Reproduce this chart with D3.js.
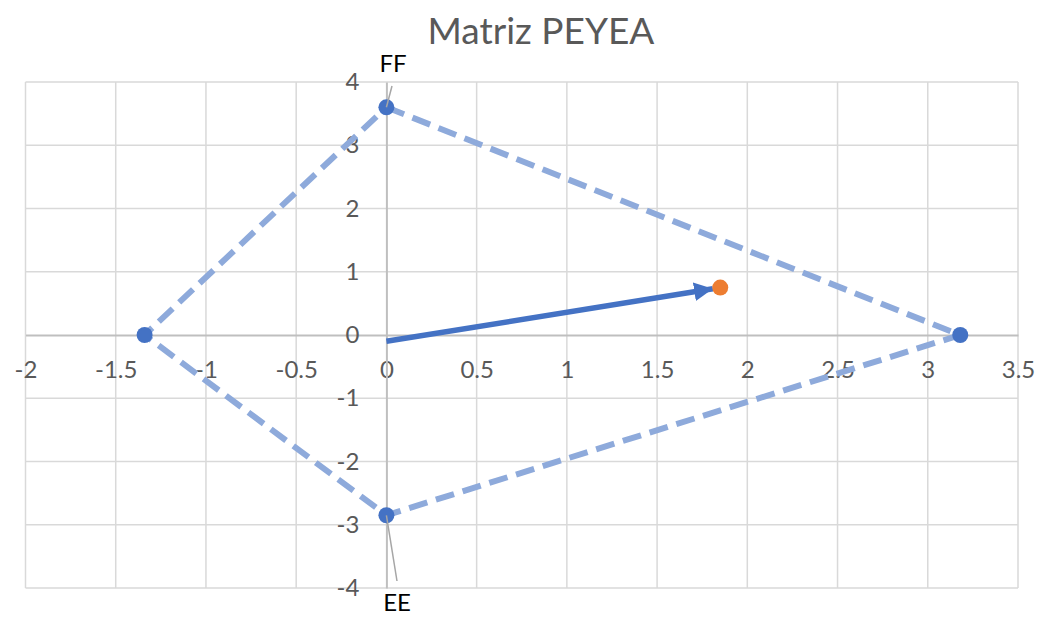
<!DOCTYPE html>
<html>
<head>
<meta charset="utf-8">
<script src="https://cdn.jsdelivr.net/npm/d3@7"></script>
<style>
  body { margin: 0; background: #fff; }
  svg { font-family: Lato, 'Open Sans', sans-serif; }
</style>
</head>
<body>
<svg id="chart" width="1046" height="617"></svg>
<script>
// matrix vertices (FF, competitive, EE, industry strength)
const vertexNames = ['FF', 'VC', 'EE', 'FI']
const vertexX = [0, 3.18, 0, -1.34]
const vertexY = [3.6, 0, -2.85, 0]
// resulting vector
const vectorStart = [0, -0.1]
const vectorEnd = [1.85, 0.75]
const xTicks = [-2, -1.5, -1, -0.5, 0, 0.5, 1, 1.5, 2, 2.5, 3, 3.5]
const yTicks = [-4, -3, -2, -1, 0, 1, 2, 3, 4]
const title = 'Matriz PEYEA'

const svg = d3.select('#chart')
const x = d3.scaleLinear().domain([-2, 3.5]).range([25.5, 1018])
const y = d3.scaleLinear().domain([-4, 4]).range([588, 82])

svg.append('text')
  .attr('x', 541).attr('y', 44)
  .attr('text-anchor', 'middle')
  .style('font-size', '37px')
  .style('fill', '#595959')
  .text(title)

// grid
svg.append('g').selectAll('line.v')
  .data(xTicks.filter(d => d !== 0))
  .enter().append('line')
  .attr('x1', d => x(d)).attr('x2', d => x(d))
  .attr('y1', y(4)).attr('y2', y(-4))
  .style('stroke', '#d9d9d9').style('stroke-width', 1.5)
svg.append('g').selectAll('line.h')
  .data(yTicks.filter(d => d !== 0))
  .enter().append('line')
  .attr('y1', d => y(d)).attr('y2', d => y(d))
  .attr('x1', x(-2)).attr('x2', x(3.5))
  .style('stroke', '#d9d9d9').style('stroke-width', 1.5)

// axes crossing at zero
const fmt = d => String(d)
const xAxis = svg.append('g')
  .attr('transform', 'translate(0,' + y(0) + ')')
  .call(d3.axisBottom(x).tickValues(xTicks).tickSize(0).tickPadding(26).tickFormat(fmt))
const yAxis = svg.append('g')
  .attr('transform', 'translate(' + x(0) + ',0)')
  .call(d3.axisLeft(y).tickValues(yTicks).tickSize(0).tickPadding(27).tickFormat(fmt))
for (let ax of [xAxis, yAxis]) {
  ax.select('.domain').style('stroke', '#bfbfbf').style('stroke-width', 2)
  ax.selectAll('text').style('font-size', '24px').style('fill', '#595959')
    .style('font-family', "Lato, 'Open Sans', sans-serif")
}

// polygon
const pts = vertexX.map((v, i) => [v, vertexY[i]])
const line = d3.line().x(d => x(d[0])).y(d => y(d[1]))
svg.append('path')
  .datum(pts.concat([pts[0]]))
  .attr('d', line)
  .style('fill', 'none')
  .style('stroke', '#8eaadb')
  .style('stroke-width', 6)
  .style('stroke-dasharray', '19,9')

svg.append('g').selectAll('circle')
  .data(pts)
  .enter().append('circle')
  .attr('cx', d => x(d[0])).attr('cy', d => y(d[1]))
  .attr('r', 8)
  .style('fill', '#4472c4')

// labels with leader lines
const labelInfo = [
  {i: 0, lx: 393, ly: 72, tx: 392, ty: 86},
  {i: 2, lx: 397, ly: 611, tx: 397, ty: 581}
]
for (let l of labelInfo) {
  svg.append('line')
    .attr('x1', x(pts[l.i][0])).attr('y1', y(pts[l.i][1]))
    .attr('x2', l.tx).attr('y2', l.ty)
    .style('stroke', '#a6a6a6').style('stroke-width', 1.5)
  svg.append('text')
    .attr('x', l.lx).attr('y', l.ly)
    .attr('text-anchor', 'middle')
    .style('font-size', '24px')
    .style('fill', '#000')
    .text(vertexNames[l.i])
}

// vector arrow
svg.append('defs').append('marker')
  .attr('id', 'arrow')
  .attr('viewBox', '0 0 10 10')
  .attr('refX', 10).attr('refY', 5)
  .attr('markerWidth', 3.4).attr('markerHeight', 3.4)
  .attr('markerUnits', 'strokeWidth')
  .attr('orient', 'auto')
  .append('path').attr('d', 'M0,0L10,5L0,10z').style('fill', '#4472c4')

const sx = x(vectorStart[0]), sy = y(vectorStart[1])
const ex = x(vectorEnd[0]), ey = y(vectorEnd[1])
const len = Math.hypot(ex - sx, ey - sy)
const cut = 7.5
svg.append('line')
  .attr('x1', sx).attr('y1', sy)
  .attr('x2', ex - (ex - sx) / len * cut).attr('y2', ey - (ey - sy) / len * cut)
  .style('stroke', '#4472c4').style('stroke-width', 5.5)
  .attr('marker-end', 'url(#arrow)')

svg.append('circle')
  .attr('cx', ex).attr('cy', ey).attr('r', 8)
  .style('fill', '#ed7d31')
</script>
</body>
</html>
